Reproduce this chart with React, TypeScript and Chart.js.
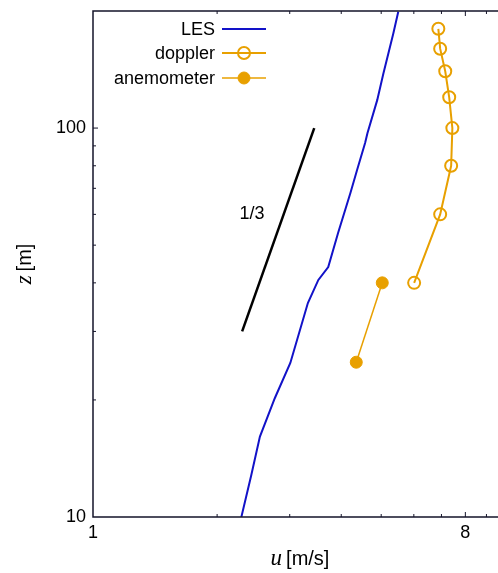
import React, { useEffect, useRef } from 'react';
import { Chart, registerables } from 'chart.js';

Chart.register(...registerables);

// ---- data ----
const LES_U = [2.29, 2.42, 2.54, 2.76, 3.01, 3.32, 3.52, 3.72, 3.93, 4.21, 4.37, 4.57, 4.63, 4.89, 5.06, 5.35, 5.5];
const LES_Z = [10, 12.8, 16.1, 20.2, 24.9, 35.5, 40.7, 43.9, 53.7, 68.1, 78.0, 91.5, 97, 118, 138, 175, 199];
const DOPPLER_U = [6.01, 6.95, 7.39, 7.44, 7.31, 7.15, 6.95, 6.88];
const DOPPLER_Z = [40, 60, 80, 100, 120, 140, 160, 180];
const ANEMO_U = [4.35, 5.03];
const ANEMO_Z = [25, 40];
const SLOPE_U = [2.3, 3.44];
const SLOPE_Z = [30, 100];
const SLOPE_LABEL = '1/3';
const SLOPE_LABEL_POS = [2.43, 60];
const X_MIN = 1;
const X_MAX = 9.6;
const Y_MIN = 10;
const Y_MAX = 200;
const X_TICKS = [1, 2, 3, 4, 5, 6, 7, 8, 9];
const X_TICK_LABELS = [1, 8];
const Y_TICKS = [10, 20, 30, 40, 50, 60, 70, 80, 90, 100, 200];
const Y_TICK_LABELS = [10, 100];
const SERIES_NAMES = ['LES', 'doppler', 'anemometer'];

const BLUE = '#1212c8';
const ORANGE = '#e8a000';
const AXIS = '#14142a';
const FONT = '"Liberation Sans", Arial, sans-serif';

const zip = (xs: number[], ys: number[]) => xs.map((x, i) => ({ x, y: ys[i] }));

const overlay = {
  id: 'overlay',
  afterDraw(chart: any) {
    const ctx = chart.ctx;
    const { left, top, right, bottom } = chart.chartArea;
    const xs = chart.scales.x;
    const ys = chart.scales.y;
    ctx.save();
    // frame
    ctx.strokeStyle = AXIS;
    ctx.lineWidth = 1.5;
    ctx.beginPath();
    ctx.moveTo(right + 5, top);
    ctx.lineTo(left, top);
    ctx.lineTo(left, bottom);
    ctx.lineTo(right + 5, bottom);
    ctx.stroke();
    // inward ticks
    ctx.lineWidth = 1;
    X_TICKS.forEach((v) => {
      const px = xs.getPixelForValue(v);
      if (px <= left + 1) return;
      const len = X_TICK_LABELS.includes(v) ? 5 : 3;
      ctx.beginPath();
      ctx.moveTo(px, bottom);
      ctx.lineTo(px, bottom - len);
      ctx.moveTo(px, top);
      ctx.lineTo(px, top + len);
      ctx.stroke();
    });
    Y_TICKS.forEach((v) => {
      const py = ys.getPixelForValue(v);
      if (py >= bottom - 1 || py <= top + 1) return;
      const len = Y_TICK_LABELS.includes(v) ? 5 : 3;
      ctx.beginPath();
      ctx.moveTo(left, py);
      ctx.lineTo(left + len, py);
      ctx.stroke();
    });
    // slope label
    ctx.fillStyle = '#000';
    ctx.font = '18px ' + FONT;
    ctx.textAlign = 'center';
    ctx.textBaseline = 'middle';
    ctx.fillText(SLOPE_LABEL, xs.getPixelForValue(SLOPE_LABEL_POS[0]), ys.getPixelForValue(SLOPE_LABEL_POS[1]));
    // x title: u [m/s]
    ctx.textBaseline = 'alphabetic';
    ctx.textAlign = 'left';
    const it = 'italic 23px "Liberation Serif", serif';
    const rg = '20px ' + FONT;
    const gap = 4;
    ctx.font = it;
    const wu = ctx.measureText('u').width;
    ctx.font = rg;
    const wr = ctx.measureText('[m/s]').width;
    let sx = 300 - (wu + gap + wr) / 2;
    ctx.font = it;
    ctx.fillText('u', sx, 565);
    ctx.font = rg;
    ctx.fillText('[m/s]', sx + wu + gap, 565);
    // y title: z [m]
    ctx.save();
    ctx.translate(31, 264);
    ctx.rotate(-Math.PI / 2);
    ctx.font = it;
    const wz = ctx.measureText('z').width;
    ctx.font = rg;
    const wm = ctx.measureText('[m]').width;
    sx = -(wz + gap + wm) / 2;
    ctx.font = it;
    ctx.fillText('z', sx, 0);
    ctx.font = rg;
    ctx.fillText('[m]', sx + wz + gap, 0);
    ctx.restore();
    // legend
    const ds = chart.data.datasets;
    const rows = [29, 53, 78];
    ctx.font = '18px ' + FONT;
    ctx.textAlign = 'right';
    ctx.textBaseline = 'middle';
    SERIES_NAMES.forEach((name, i) => {
      const d = ds[i];
      const y = rows[i];
      ctx.fillStyle = '#000';
      ctx.fillText(name, 215, y + 1);
      ctx.strokeStyle = d.borderColor;
      ctx.lineWidth = d.borderWidth;
      ctx.beginPath();
      ctx.moveTo(222, y);
      ctx.lineTo(266, y);
      ctx.stroke();
      if (d.pointRadius > 0) {
        ctx.beginPath();
        ctx.arc(244, y, d.pointRadius, 0, Math.PI * 2);
        ctx.fillStyle = d.pointBackgroundColor;
        ctx.fill();
        ctx.lineWidth = d.pointBorderWidth;
        ctx.stroke();
      }
    });
    ctx.restore();
  },
};

export default function App() {
  const ref = useRef<HTMLCanvasElement | null>(null);
  useEffect(() => {
    if (!ref.current) return;
    const chart = new Chart(ref.current, {
      type: 'scatter',
      data: {
        datasets: [
          {
            label: SERIES_NAMES[0],
            data: zip(LES_U, LES_Z),
            showLine: true,
            borderColor: BLUE,
            backgroundColor: BLUE,
            borderWidth: 2,
            pointRadius: 0,
          },
          {
            label: SERIES_NAMES[1],
            data: zip(DOPPLER_U, DOPPLER_Z),
            showLine: true,
            borderColor: ORANGE,
            backgroundColor: '#ffffff',
            pointBackgroundColor: 'rgba(255,255,255,0)',
            pointBorderColor: ORANGE,
            borderWidth: 2,
            pointRadius: 6,
            pointBorderWidth: 2,
          },
          {
            label: SERIES_NAMES[2],
            data: zip(ANEMO_U, ANEMO_Z),
            showLine: true,
            borderColor: ORANGE,
            backgroundColor: ORANGE,
            pointBackgroundColor: ORANGE,
            pointBorderColor: ORANGE,
            borderWidth: 1.5,
            pointRadius: 6,
            pointBorderWidth: 1,
          },
          {
            label: 'slope',
            data: zip(SLOPE_U, SLOPE_Z),
            showLine: true,
            borderColor: '#000000',
            backgroundColor: '#000000',
            borderWidth: 2.5,
            pointRadius: 0,
          },
        ],
      } as any,
      options: {
        animation: false,
        responsive: false,
        maintainAspectRatio: false,
        layout: { autoPadding: false, padding: { top: 11, right: 0, left: 0, bottom: 0 } },
        plugins: { legend: { display: false }, tooltip: { enabled: false } },
        scales: {
          x: {
            type: 'logarithmic',
            min: X_MIN,
            max: X_MAX,
            bounds: 'data',
            border: { display: false },
            grid: { display: false, drawTicks: false },
            afterBuildTicks: (s: any) => {
              s.ticks = X_TICKS.map((v) => ({ value: v }));
              s.min = X_MIN;
              s.max = X_MAX;
            },
            afterFit: (s: any) => {
              s.height = 56;
              s.paddingLeft = 0;
              s.paddingRight = 0;
              s.paddingTop = 0;
              s.paddingBottom = 0;
            },
            ticks: {
              autoSkip: false,
              maxRotation: 0,
              padding: 5,
              color: '#000',
              font: { family: FONT, size: 18 },
              callback: (v: any) => (X_TICK_LABELS.includes(Number(v)) ? String(v) : ''),
            },
          },
          y: {
            type: 'logarithmic',
            min: Y_MIN,
            max: Y_MAX,
            bounds: 'data',
            border: { display: false },
            grid: { display: false, drawTicks: false },
            afterBuildTicks: (s: any) => {
              s.ticks = Y_TICKS.map((v) => ({ value: v }));
              s.min = Y_MIN;
              s.max = Y_MAX;
            },
            afterFit: (s: any) => {
              s.width = 93;
              s.paddingLeft = 0;
              s.paddingRight = 0;
              s.paddingTop = 0;
              s.paddingBottom = 0;
            },
            ticks: {
              autoSkip: false,
              padding: 7,
              color: '#000',
              font: { family: FONT, size: 18 },
              callback: (v: any) => (Y_TICK_LABELS.includes(Number(v)) ? String(v) : ''),
            },
          },
        },
      } as any,
      plugins: [overlay],
    });
    return () => chart.destroy();
  }, []);
  return (
    <div style={{ position: 'absolute', left: 0, top: 0, width: 498, height: 573, background: '#fff' }}>
      <canvas ref={ref} width={498} height={573} style={{ width: 498, height: 573, display: 'block' }} />
    </div>
  );
}
